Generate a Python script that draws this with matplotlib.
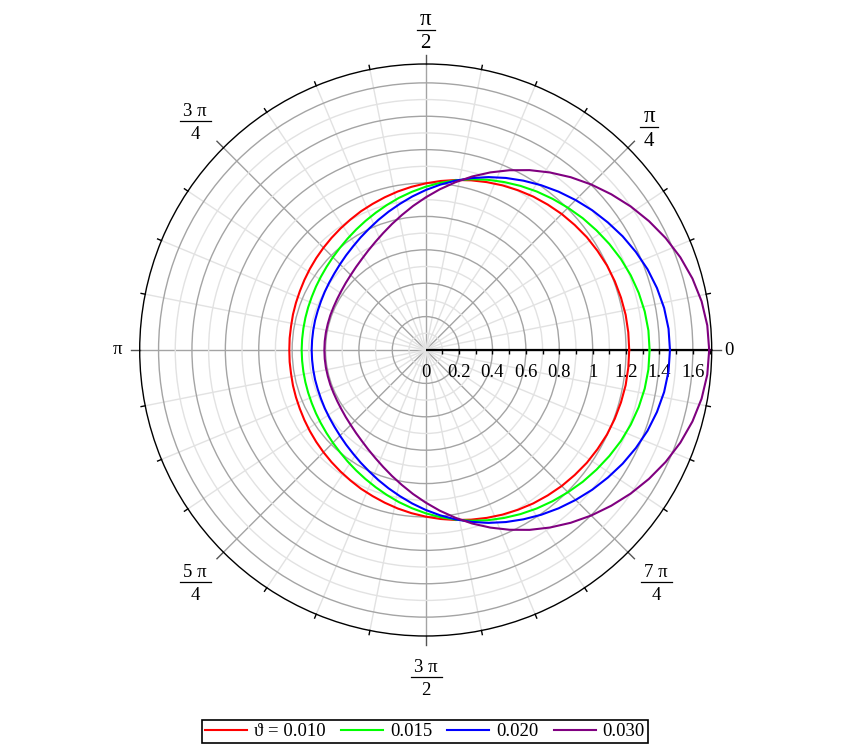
import numpy as np
import matplotlib
matplotlib.use('Agg')
import matplotlib.pyplot as plt
from matplotlib.lines import Line2D
from matplotlib.transforms import ScaledTranslation

SERIF = ['Liberation Serif', 'DejaVu Serif']

# ---- data (angle in degrees, radius) ----
theta_deg = list(range(0, 181, 5))
r_red = [1.219, 1.218, 1.216, 1.211, 1.205, 1.198, 1.188, 1.178, 1.165, 1.152,
         1.137, 1.122, 1.105, 1.088, 1.070, 1.052, 1.034, 1.016, 0.998, 0.981,
         0.964, 0.947, 0.931, 0.917, 0.902, 0.889, 0.877, 0.866, 0.856, 0.847,
         0.839, 0.832, 0.827, 0.823, 0.819, 0.818, 0.817]
r_green = [1.341, 1.339, 1.332, 1.321, 1.307, 1.290, 1.270, 1.249, 1.228, 1.205,
           1.182, 1.159, 1.135, 1.110, 1.085, 1.059, 1.032, 1.005, 0.978, 0.951,
           0.925, 0.899, 0.875, 0.853, 0.833, 0.815, 0.799, 0.786, 0.775, 0.766,
           0.759, 0.753, 0.749, 0.746, 0.744, 0.743, 0.743]
r_blue = [1.463, 1.460, 1.450, 1.434, 1.414, 1.389, 1.362, 1.332, 1.302, 1.270,
          1.238, 1.205, 1.171, 1.137, 1.102, 1.066, 1.030, 0.994, 0.958, 0.923,
          0.889, 0.858, 0.829, 0.802, 0.779, 0.758, 0.741, 0.726, 0.714, 0.705,
          0.698, 0.692, 0.688, 0.686, 0.684, 0.683, 0.683]
r_purple = [1.698, 1.693, 1.678, 1.654, 1.623, 1.586, 1.544, 1.499, 1.451, 1.402,
            1.351, 1.298, 1.244, 1.188, 1.132, 1.076, 1.020, 0.966, 0.914, 0.866,
            0.821, 0.781, 0.745, 0.714, 0.688, 0.666, 0.649, 0.635, 0.625, 0.617,
            0.612, 0.609, 0.608, 0.607, 0.607, 0.607, 0.607]
series_labels = ['ϑ = 0.010', '0.015', '0.020', '0.030']
series_colors = ['#ff0000', '#00ff00', '#0000ff', '#800080']
r_tick_values = [0, 0.2, 0.4, 0.6, 0.8, 1.0, 1.2, 1.4, 1.6]
r_tick_labels = ['0', '0.2', '0.4', '0.6', '0.8', '1', '1.2', '1.4', '1.6']
# angular labels: plain ones and fractions (numerator / denominator)
plain_label_deg = [0, 180]
plain_labels = ['0', 'π']
frac_label_deg = [45, 90, 135, 225, 270, 315]
frac_numerators = ['π', 'π', '3 π', '5 π', '3 π', '7 π']
frac_denominators = ['4', '2', '4', '4', '2', '4']
R_MAX = 1.713

W, H = 851, 748


def fx(x):
    return x / W


def fy(y):
    return 1 - y / H


# ---- figure ----
fig = plt.figure(figsize=(W / 100, H / 100), dpi=100)
ax = fig.add_axes([139.7 / W, 112 / H, 572 / W, 572 / H], projection='polar')
ax.set_ylim(0, R_MAX)

ax.set_xticks(np.deg2rad(np.arange(0, 360, 45)))
ax.set_xticks(np.deg2rad(np.arange(0, 360, 11.25)), minor=True)
ax.set_yticks(np.arange(0.2, 1.61, 0.2))
ax.set_yticks(np.arange(0.1, 1.61, 0.2), minor=True)
ax.set_xticklabels([])
ax.set_yticklabels([])
ax.tick_params(which='both', length=0)
ax.grid(which='minor', color='#e2e2e2', lw=1.0)
ax.grid(which='major', color='#a4a4a4', lw=1.0)
ax.spines['polar'].set_color('black')
ax.spines['polar'].set_linewidth(1.0)

# outer angular ticks
for t in np.arange(0, 360, 11.25):
    if t % 45 == 0:
        ax.plot(np.deg2rad([t, t]), [R_MAX, R_MAX + 0.055], color='#555555',
                lw=1.0, clip_on=False, zorder=2)
    else:
        ax.plot(np.deg2rad([t, t]), [R_MAX, R_MAX + 0.025], color='black',
                lw=1.0, clip_on=False, zorder=2)

# radial axis line with ticks
ax.plot([0, 0], [0, R_MAX], color='black', lw=1.6, zorder=2.5, solid_capstyle='butt')
ax.plot(np.zeros(17), np.arange(1, 18) / 10.0, ls='none', marker=3, ms=3,
        mew=1.0, color='black', zorder=2.5, clip_on=False)

# radial tick labels below the axis
off = ax.transData + ScaledTranslation(0, -22.5 / 100, fig.dpi_scale_trans)
for rv, lab in zip(r_tick_values, r_tick_labels):
    ax.text(0, rv, lab, transform=off, ha='center', va='center',
            fontsize=13.5, family=SERIF)

# plain angular labels
plain_r = {0: 1.818, 180: 1.845}
for d, lab in zip(plain_label_deg, plain_labels):
    ax.text(np.deg2rad(d), plain_r[d], lab, ha='center', va='center',
            fontsize=13.5, family=SERIF, clip_on=False)

# fraction angular labels (bar centre in pixels)
frac_pos = {45: (649, 126.7), 90: (425.5, 29.5), 135: (195, 120.7),
            225: (195, 581.5), 270: (426, 676.5), 315: (656, 581.5)}
for d, num, den in zip(frac_label_deg, frac_numerators, frac_denominators):
    cx, by = frac_pos[d]
    big = (num == 'π')
    ns = 16.5 if big else 13.5
    ds = 15 if big else 13.5
    bw = 18 if big else 31
    fig.text(fx(cx), fy(by - 4.5), num, ha='center', va='baseline',
             fontsize=ns, family=SERIF)
    fig.text(fx(cx), fy(by + (19 if big else 18.5)), den, ha='center',
             va='baseline', fontsize=ds, family=SERIF)
    fig.add_artist(Line2D([fx(cx - bw / 2), fx(cx + bw / 2)], [fy(by), fy(by)],
                          transform=fig.transFigure, color='black', lw=0.9))

# curves (mirrored about the horizontal axis)
th = np.array(theta_deg + [360 - a for a in theta_deg[-2::-1]], dtype=float)
for rv, col in zip([r_red, r_green, r_blue, r_purple], series_colors):
    rr = np.array(rv + rv[-2::-1])
    ax.plot(np.deg2rad(th), rr, color=col, lw=1.5, zorder=3)

# legend
handles = [Line2D([], [], color=c, lw=1.5) for c in series_colors]
leg = fig.legend(handles, series_labels, loc='center',
                 bbox_to_anchor=(fx(425), fy(731.5)), ncol=4,
                 frameon=True, fancybox=False, edgecolor='black', framealpha=1,
                 prop={'family': SERIF, 'size': 13.5}, handlelength=2.25,
                 handletextpad=0.37, columnspacing=0.8, borderpad=0.15,
                 borderaxespad=0)
leg.get_frame().set_linewidth(1.2)

fig.savefig('out.png', dpi=100)
